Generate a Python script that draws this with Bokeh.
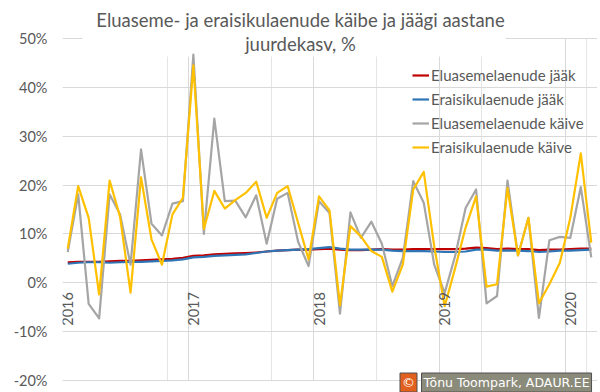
import math
from bokeh.plotting import figure
from bokeh.models import (Range1d, FixedTicker, Grid, Legend, LegendItem, Label,
                          BoxAnnotation, ColumnDataSource)
from bokeh.core.properties import value
from bokeh.embed import file_html
from bokeh.resources import INLINE

# ---------------- data (monthly, Jan 2016 .. Mar 2020) ----------------
months = ["2016-01", "2016-02", "2016-03", "2016-04", "2016-05", "2016-06", "2016-07", "2016-08", "2016-09", "2016-10", "2016-11", "2016-12",
          "2017-01", "2017-02", "2017-03", "2017-04", "2017-05", "2017-06", "2017-07", "2017-08", "2017-09", "2017-10", "2017-11", "2017-12",
          "2018-01", "2018-02", "2018-03", "2018-04", "2018-05", "2018-06", "2018-07", "2018-08", "2018-09", "2018-10", "2018-11", "2018-12",
          "2019-01", "2019-02", "2019-03", "2019-04", "2019-05", "2019-06", "2019-07", "2019-08", "2019-09", "2019-10", "2019-11", "2019-12",
          "2020-01", "2020-02", "2020-03"]

eluaseme_jaak = [4.2, 4.3, 4.3, 4.3, 4.4, 4.5, 4.5, 4.6, 4.7, 4.8, 4.9, 5.1,
                 5.5, 5.6, 5.8, 5.9, 6.0, 6.1, 6.2, 6.4, 6.6, 6.7, 6.8, 6.8,
                 6.9, 7.0, 6.8, 6.7, 6.7, 6.8, 6.9, 6.8, 6.8, 6.9, 6.9, 6.9,
                 6.9, 6.9, 7.0, 7.2, 7.1, 6.9, 7.0, 6.9, 6.9, 6.7, 6.8, 6.8,
                 6.9, 7.0, 7.0]

eraisiku_jaak = [3.9, 4.1, 4.2, 4.2, 4.1, 4.2, 4.3, 4.3, 4.4, 4.5, 4.6, 4.8,
                 5.2, 5.3, 5.5, 5.6, 5.7, 5.8, 6.1, 6.4, 6.6, 6.7, 6.8, 6.9,
                 7.1, 7.3, 7.0, 6.8, 6.8, 6.8, 6.8, 6.6, 6.5, 6.5, 6.5, 6.4,
                 6.3, 6.3, 6.4, 6.8, 6.8, 6.6, 6.6, 6.6, 6.5, 6.3, 6.4, 6.6,
                 6.6, 6.7, 6.8]

eluaseme_kaive = [6.3, 18.1, -4.3, -7.3, 18.1, 14.0, 3.7, 27.3, 12.1, 9.7, 16.2, 16.7,
                  46.7, 10.0, 33.6, 16.7, 16.8, 13.4, 17.9, 8.0, 17.2, 18.4, 8.4, 3.4,
                  16.7, 14.3, -6.3, 14.4, 9.2, 12.5, 8.0, -0.7, 5.1, 20.8, 16.4, 3.7,
                  -2.1, 5.5, 15.3, 19.1, -4.2, -2.7, 20.9, 5.6, 13.3, -7.2, 8.7, 9.4,
                  9.2, 19.6, 5.2]

eraisiku_kaive = [7.0, 19.8, 13.3, -2.4, 20.9, 13.5, -2.0, 21.6, 8.9, 3.7, 14.0, 17.4,
                  44.5, 11.0, 18.8, 15.2, 16.9, 18.4, 20.7, 13.3, 18.4, 19.8, 12.3, 4.8,
                  17.7, 14.8, -4.6, 11.6, 9.5, 6.5, 5.3, -1.8, 3.7, 19.1, 22.7, 7.5,
                  -4.8, 3.0, 11.3, 17.7, -0.8, -0.3, 19.4, 5.6, 13.3, -4.2, -0.3, 4.1,
                  13.3, 26.5, 8.2]

year_labels = ["2016", "2017", "2018", "2019", "2020"]
year_index = [0, 12, 24, 36, 48]
y_ticks = [-20, -10, 0, 10, 20, 30, 40, 50]

series_names = ["Eluasemelaenude jääk", "Eraisikulaenude jääk",
                "Eluasemelaenude käive", "Eraisikulaenude käive"]
series_colors = ["#C00000", "#2E75B6", "#A5A5A5", "#FFC000"]

TXT = "#595959"
GRID = "#D9D9D9"
FONT = "Lato"

# ---------------- geometry ----------------
W, H = 600, 392
PLOT_L, PLOT_R, PLOT_T, PLOT_B = 62, 596, 38, 380   # value area in page pixels
n = len(months)
y_lo, y_hi = -20, 50
ppu_y = (PLOT_B - PLOT_T) / (y_hi - y_lo)
ppu_x = (PLOT_R - PLOT_L) / n
yr_start = y_lo - (H - PLOT_B) / ppu_y
yr_end = y_hi + PLOT_T / ppu_y
xr_end = n + (W - PLOT_R) / ppu_x

xs = [i + 0.5 for i in range(n)]

p = figure(width=W, height=H, output_backend="svg", toolbar_location=None,
           x_range=Range1d(0, xr_end), y_range=Range1d(yr_start, yr_end),
           x_axis_location=None,
           min_border_left=PLOT_L, min_border_right=0, min_border_top=0, min_border_bottom=0,
           outline_line_color=None)
p.background_fill_color = "white"
p.border_fill_color = "white"

# grids
p.ygrid.ticker = FixedTicker(ticks=y_ticks)
p.ygrid.grid_line_color = GRID
p.ygrid.grid_line_width = 1
p.add_layout(Grid(dimension=0, ticker=FixedTicker(ticks=year_index),
                  grid_line_color=GRID, grid_line_width=1))

# y axis
ax = p.yaxis[0]
ax.ticker = FixedTicker(ticks=y_ticks)
ax.major_label_overrides = {t: f"{t}%" for t in y_ticks}
ax.axis_line_color = None
ax.major_tick_line_color = None
ax.minor_tick_line_color = None
ax.major_tick_out = 0
ax.major_label_standoff = 15
ax.major_label_text_font = FONT
ax.major_label_text_font_size = "14.5px"
ax.major_label_text_color = TXT

# white masks: keep grid inside the value area, and behind the title
def mask(**kw):
    p.add_layout(BoxAnnotation(fill_color="white", fill_alpha=1.0, line_color=None,
                               level="underlay", **kw))

mask(left=-1, right=xr_end + 1, bottom=y_hi + 0.12, top=yr_end + 1)
mask(left=-1, right=xr_end + 1, bottom=yr_start - 1, top=y_lo - 0.12)
mask(left=n + 0.05, right=xr_end + 1, bottom=yr_start - 1, top=yr_end + 1)
mask(left=(82 - PLOT_L) / ppu_x, right=(505 - PLOT_L) / ppu_x,
     bottom=y_hi - (56 - PLOT_T) / ppu_y, top=yr_end + 1)

# series
src = ColumnDataSource(dict(x=xs, a=eluaseme_jaak, b=eraisiku_jaak,
                            c=eluaseme_kaive, d=eraisiku_kaive))
renderers = []
for col, color in zip(["a", "b", "c", "d"], series_colors):
    r = p.line("x", col, source=src, line_color=color, line_width=2.2,
               line_join="round")
    renderers.append(r)

# year labels (category axis labels, rotated, just under 0%)
ysrc = ColumnDataSource(dict(x=[i + 0.5 for i in year_index],
                             y=[-1.9] * len(year_index), t=year_labels))
p.text("x", "y", text="t", source=ysrc, angle=math.pi / 2,
       text_align="right", text_baseline="middle",
       text_font=value(FONT), text_font_size="14.5px", text_color=TXT)

# legend (screen coords relative to frame bottom-left)
leg_top, leg_left, row_h = 63, 412, 24
legend = Legend(items=[LegendItem(label=nm, renderers=[r])
                       for nm, r in zip(series_names, renderers)],
                location=(leg_left - PLOT_L, H - (leg_top + 4 * row_h)),
                orientation="vertical",
                glyph_width=17, glyph_height=row_h, label_height=row_h,
                spacing=0, padding=0, margin=0, label_standoff=2,
                label_text_font=FONT, label_text_font_size="15px",
                label_text_color=TXT, border_line_color=None,
                background_fill_alpha=0)
p.add_layout(legend)

# title (two lines)
p.add_layout(Label(x=300 - PLOT_L, y=H - 19.5, x_units="screen", y_units="screen",
                   text="Eluaseme- ja eraisikulaenude käibe ja jäägi aastane",
                   text_align="center", text_baseline="middle",
                   text_font=FONT, text_font_size="18.5px", text_color=TXT))
p.add_layout(Label(x=300 - PLOT_L, y=H - 43.5, x_units="screen", y_units="screen",
                   text="juurdekasv, %",
                   text_align="center", text_baseline="middle",
                   text_font=FONT, text_font_size="18.5px", text_color=TXT))

# credit box
p.add_layout(Label(x=421 - PLOT_L, y=H - 382, x_units="screen", y_units="screen",
                   text="Tõnu Toompark, ADAUR.EE",
                   text_align="left", text_baseline="middle",
                   text_font="DejaVu Sans", text_font_size="12.5px", text_color="white",
                   background_fill_color="#8B8B7B", background_fill_alpha=1.0,
                   border_line_color="#505050", border_line_width=1, padding=2))
p.add_layout(Label(x=408 - PLOT_L, y=H - 382, x_units="screen", y_units="screen",
                   text="©",
                   text_align="center", text_baseline="middle",
                   text_font="DejaVu Sans", text_font_size="13px", text_color="white",
                   background_fill_color="#E2601D", background_fill_alpha=1.0,
                   border_line_color="#505050", border_line_width=1, padding=2))

open("out.html", "w").write(file_html(p, INLINE))
